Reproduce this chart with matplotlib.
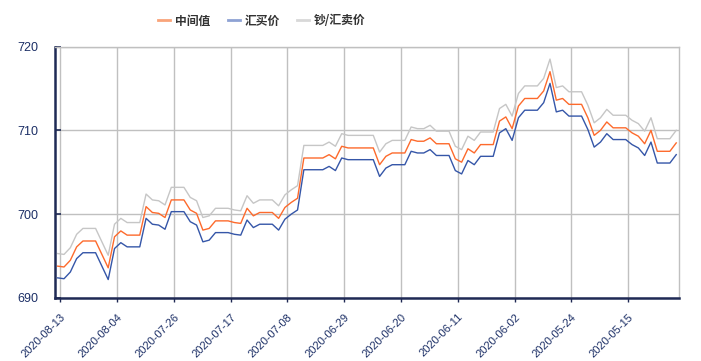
import pandas as pd
import matplotlib
matplotlib.use('Agg')
import matplotlib.pyplot as plt
from matplotlib.lines import Line2D

plt.rcParams['font.family'] = ['Liberation Sans', 'DejaVu Sans']

# dates, newest first (axis runs backwards in time)
dates = pd.date_range('2020-05-07', '2020-08-13', freq='D')[::-1].strftime('%Y-%m-%d').tolist()

mid = [693.8, 693.7, 694.5, 696.1, 696.8, 696.8, 696.8, 695.2, 693.6, 697.3,
       698.0, 697.5, 697.5, 697.5, 700.9, 700.2, 700.1, 699.6, 701.7, 701.7,
       701.7, 700.5, 700.1, 698.1, 698.3, 699.2, 699.2, 699.2, 699.0, 698.9,
       700.7, 699.8, 700.2, 700.2, 700.2, 699.5, 700.8, 701.4, 701.9, 706.7,
       706.7, 706.7, 706.7, 707.1, 706.6, 708.1, 707.9, 707.9, 707.9, 707.9,
       707.9, 705.9, 706.9, 707.3, 707.3, 707.3, 708.9, 708.7, 708.7, 709.1,
       708.4, 708.4, 708.4, 706.6, 706.2, 707.8, 707.3, 708.3, 708.3, 708.3,
       711.1, 711.6, 710.2, 712.9, 713.8, 713.8, 713.8, 714.7, 717.0, 713.6,
       713.8, 713.1, 713.1, 713.1, 711.5, 709.4, 710.0, 711.0, 710.3, 710.3,
       710.3, 709.7, 709.3, 708.4, 710.0, 707.5, 707.5, 707.5, 708.5]

buy = [692.4, 692.3, 693.1, 694.7, 695.4, 695.4, 695.4, 693.8, 692.2, 695.9,
       696.6, 696.1, 696.1, 696.1, 699.5, 698.8, 698.7, 698.2, 700.3, 700.3,
       700.3, 699.1, 698.7, 696.7, 696.9, 697.8, 697.8, 697.8, 697.6, 697.5,
       699.3, 698.4, 698.8, 698.8, 698.8, 698.1, 699.4, 700.0, 700.5, 705.3,
       705.3, 705.3, 705.3, 705.7, 705.2, 706.7, 706.5, 706.5, 706.5, 706.5,
       706.5, 704.5, 705.5, 705.9, 705.9, 705.9, 707.5, 707.3, 707.3, 707.7,
       707.0, 707.0, 707.0, 705.2, 704.8, 706.4, 705.9, 706.9, 706.9, 706.9,
       709.7, 710.2, 708.8, 711.5, 712.4, 712.4, 712.4, 713.3, 715.6, 712.2,
       712.4, 711.7, 711.7, 711.7, 710.1, 708.0, 708.6, 709.6, 708.9, 708.9,
       708.9, 708.3, 707.9, 707.0, 708.6, 706.1, 706.1, 706.1, 707.1]

sell = [695.3, 695.2, 696.0, 697.6, 698.3, 698.3, 698.3, 696.7, 695.1, 698.8,
        699.5, 699.0, 699.0, 699.0, 702.4, 701.7, 701.6, 701.1, 703.2, 703.2,
        703.2, 702.0, 701.6, 699.6, 699.8, 700.7, 700.7, 700.7, 700.5, 700.4,
        702.2, 701.3, 701.7, 701.7, 701.7, 701.0, 702.3, 702.9, 703.4, 708.2,
        708.2, 708.2, 708.2, 708.6, 708.1, 709.6, 709.4, 709.4, 709.4, 709.4,
        709.4, 707.4, 708.4, 708.8, 708.8, 708.8, 710.4, 710.2, 710.2, 710.6,
        709.9, 709.9, 709.9, 708.1, 707.7, 709.3, 708.8, 709.8, 709.8, 709.8,
        712.6, 713.1, 711.7, 714.4, 715.3, 715.3, 715.3, 716.2, 718.5, 715.1,
        715.3, 714.6, 714.6, 714.6, 713.0, 710.9, 711.5, 712.5, 711.8, 711.8,
        711.8, 711.2, 710.8, 709.9, 711.5, 709.0, 709.0, 709.0, 710.0]

names = ['中间值', '汇买价', '钞/汇卖价']
colors = ['#fd6a2c', '#3556a8', '#c6c6c6']
legend_colors = ['#f9a47a', '#8ea2d4', '#d8d8d8']
yticks = [690, 700, 710, 720]

fig = plt.figure(figsize=(7.01, 3.61), dpi=100)
ax = fig.add_axes([55 / 701, 63 / 361, 624 / 701, 251.5 / 361])

x = list(range(len(dates)))
for series, c in zip([mid, buy, sell], colors):
    ax.plot(x, series, color=c, lw=1.0, zorder=3)

ax.set_xlim(-0.43, 98.44)
ax.set_ylim(690, 720)

tick_idx = x[::9]
ax.set_xticks([i + 0.4 for i in tick_idx])
ax.set_xticklabels([dates[i] for i in tick_idx], rotation=45, ha='right',
                   rotation_mode='anchor', fontsize=8, color='#1c2f66')
ax.set_yticks(yticks)
ax.set_yticklabels([str(v) for v in yticks], fontsize=9, color='#1c2f66')

ax.grid(True, color='#c0c0c0', lw=1.0, zorder=0)
ax.tick_params(axis='y', direction='in', length=4, width=1.2, color='#1f2a55', pad=12)
ax.tick_params(axis='x', direction='out', length=3, width=1.0, color='#1f2a55', pad=7)

for s in ['left', 'bottom']:
    ax.spines[s].set_color('#1f2a55')
    ax.spines[s].set_linewidth(1.8)
for s in ['top', 'right']:
    ax.spines[s].set_color('#c0c0c0')
    ax.spines[s].set_linewidth(1.0)

handles = [Line2D([], [], color=c, lw=2) for c in legend_colors]
fig.legend(handles, names, loc='center', bbox_to_anchor=(262 / 701, 1 - 21 / 361),
           ncol=3, frameon=False, handlelength=1.0, handletextpad=0.4,
           columnspacing=1.5,
           prop={'family': ['Noto Sans CJK SC', 'DejaVu Sans'], 'weight': 'bold', 'size': 8.5},
           labelcolor='#333333')

fig.savefig('out.png', dpi=100)
